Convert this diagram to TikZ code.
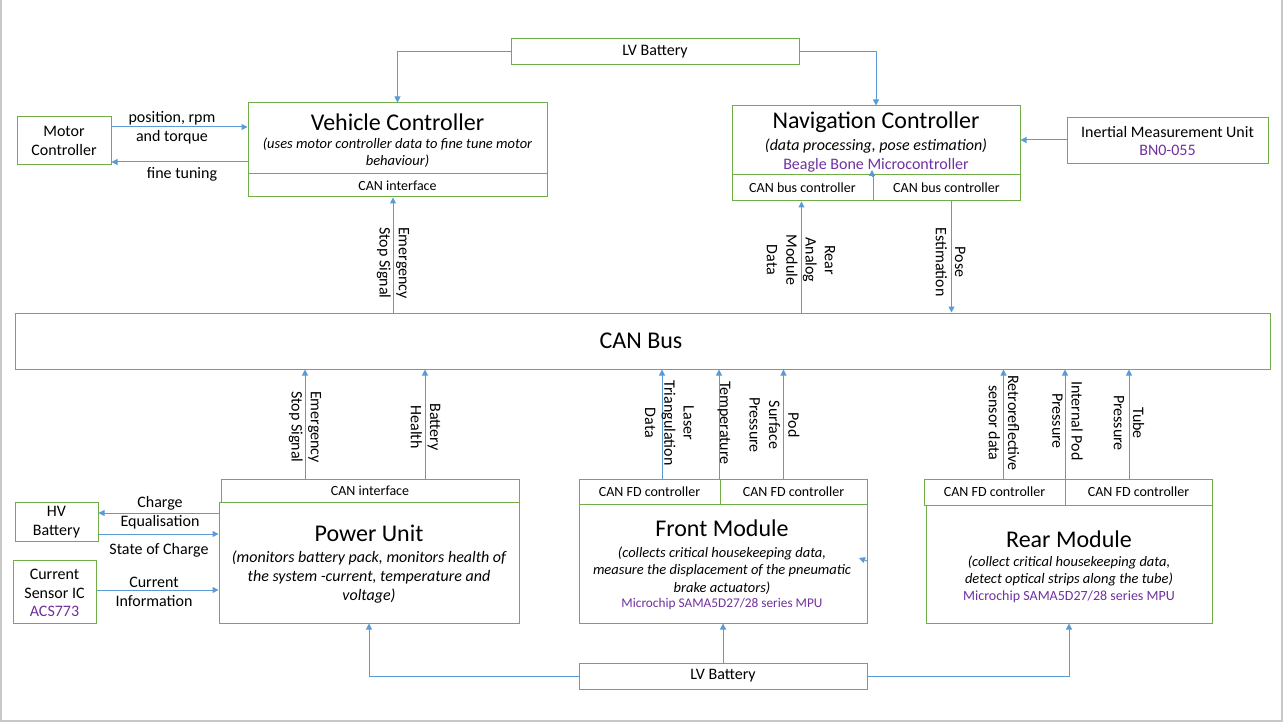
\documentclass[tikz,border=0pt]{standalone}
\usepackage{fontspec}
\setmainfont{Carlito}
\usetikzlibrary{arrows.meta,fit,calc}
\definecolor{gbox}{HTML}{70AD47}
\definecolor{blarr}{HTML}{5B9BD5}
\definecolor{purp}{HTML}{7030A0}
\definecolor{frame}{HTML}{C8C8C8}
\newcommand\fsz[2]{\fontsize{#1}{#2}\selectfont}
\begin{document}
\begin{tikzpicture}[x=1pt,y=-1pt,
  box/.style={draw=gbox,line width=1pt,inner sep=0pt,fill=none},
  arr/.style={draw=blarr,line width=1pt,-{Triangle[length=6pt,width=6pt]}},
  ttl/.style={font=\fsz{24}{28},inner sep=0pt},
  txt/.style={font=\fsz{16}{19},align=center,inner sep=0pt},
  sml/.style={font=\fsz{14}{17},align=center,inner sep=0pt},
  desc/.style={font=\fsz{14.5}{17.5}\itshape,align=center,inner sep=0pt},
  pur/.style={text=purp,inner sep=0pt},
  rot/.style={font=\fsz{16}{19.3},align=center,rotate=-90,inner sep=0pt}]
\useasboundingbox (0,0) rectangle (1283,722);
\draw[frame,line width=2pt] (1,0) -- (1,721) -- (1282,721) -- (1282,0);

% boxes
\node[box,fit={(511,39)(799,65)}] (lvt) {};
\node[box,fit={(17,117)(111,165)}] (mc) {};
\node[box,fit={(248,103)(547,174)}] (vcm) {};
\node[box,fit={(248,174)(547,197)}] (vcc) {};
\node[box,fit={(732,106)(1020,175)}] (navm) {};
\node[box,fit={(732,175)(873,201)}] (navc1) {};
\node[box,fit={(873,175)(1020,201)}] (navc2) {};
\node[box,fit={(1067,118)(1268,164)}] (imu) {};
\node[box,fit={(15,313)(1270,369)}] (can) {};
\node[box,fit={(221,479)(519,502)}] (puc) {};
\node[box,fit={(219,502)(519,623)}] (pu) {};
\node[box,fit={(15,502)(98,541)}] (hv) {};
\node[box,fit={(13,560)(96,623)}] (cs) {};
\node[box,fit={(579,479)(720,504)}] (fc1) {};
\node[box,fit={(720,479)(867,504)}] (fc2) {};
\node[box,fit={(579,504)(867,623)}] (fm) {};
\node[box,fit={(924,479)(1065,505)}] (rc1) {};
\node[box,fit={(1065,479)(1212,505)}] (rc2) {};
\node[box,fit={(926,505)(1212,623)}] (rm) {};
\node[box,fit={(579,663)(867,689)}] (lvb) {};

% box texts
\node[txt] (tlvt) at (lvt.center) {LV Battery};
\node[txt] (tmc) at (64,141) {Motor\\Controller};
\node[ttl] (tvc) at (397.5,122) {Vehicle Controller};
\node[desc] (dvc) at (397.5,152.5) {(uses motor controller data to fine tune motor\\behaviour)};
\node[sml] (tvcc) at (vcc.center) {CAN interface};
\node[ttl] (tnav) at (876,122) {Navigation Controller};
\node[desc,font=\fsz{16}{19}\itshape] (dnav) at (876,146) {(data processing, pose estimation)};
\node[txt,pur] (pnav) at (876,165) {Beagle Bone Microcontroller};
\node[sml] (tnc1) at (navc1.center) {CAN bus controller};
\node[sml] (tnc2) at (navc2.center) {CAN bus controller};
\node[txt] (timu) at (1167.5,132) {Inertial Measurement Unit};
\node[txt,pur] (pimu) at (1167.5,150) {BN0-055};
\node[ttl] (tcan) at (641,341) {CAN Bus};
\node[sml] (tpuc) at (puc.center) {CAN interface};
\node[ttl] (tpu) at (369,533) {Power Unit};
\node[desc,font=\fsz{16}{19}\itshape] (dpu) at (369,577) {(monitors battery pack, monitors health of\\the system -current, temperature and\\voltage)};
\node[txt] (thv) at (56.5,522.5) {HV\\Battery};
\node[txt] (tcs) at (54.5,583.5) {Current\\Sensor IC};
\node[txt,pur] (pcs) at (54.5,611) {ACS773};
\node[sml] (tfc1) at (fc1.center) {CAN FD controller};
\node[sml] (tfc2) at (fc2.center) {CAN FD controller};
\node[ttl] (tfm) at (722,528) {Front Module};
\node[desc] (dfm) at (722,570.5) {(collects critical housekeeping data,\\measure the displacement of the pneumatic\\brake actuators)};
\node[sml,pur,font=\fsz{13.3}{15}] (pfm) at (722,604) {Microchip SAMA5D27/28 series MPU};
\node[sml] (trc1) at (rc1.center) {CAN FD controller};
\node[sml] (trc2) at (rc2.center) {CAN FD controller};
\node[ttl] (trm) at (1069,539) {Rear Module};
\node[desc] (drm) at (1069,571) {(collect critical housekeeping data,\\detect optical strips along the tube)};
\node[sml,pur] (prm) at (1069,597) {Microchip SAMA5D27/28 series MPU};
\node[txt] (tlvb) at (lvb.center) {LV Battery};

% connectors
\draw[arr] (lvt.west) -| (vcm.north);
\draw[arr] (lvt.east) -| (navm.north);
\draw[arr] (mc.east |- 0,127) -- (vcm.west |- 0,127);
\draw[arr] (vcm.west |- 0,162) -- (mc.east |- 0,162);
\draw[arr] (can.north -| 393,0) -- (vcc.south -| 393,0);
\draw[arr] (can.north -| 801.5,0) -- (navc1.south -| 801.5,0);
\draw[arr] (navc2.south -| 951.5,0) -- (can.north -| 951.5,0);
\draw[arr] (imu.west |- 0,140) -- (navm.east |- 0,140);
\draw[arr] (puc.north -| 305,0) -- (can.south -| 305,0);
\draw[arr] (puc.north -| 425,0) -- (can.south -| 425,0);
\draw[arr] (pu.west |- 0,513) -- (hv.east |- 0,513);
\draw[arr] (hv.east |- 0,534) -- (pu.west |- 0,534);
\draw[arr] (cs.east |- 0,590) -- (pu.west |- 0,590);
\draw[arr] (lvb.west) -| (pu.south);
\draw[arr] (lvb.north) -- (fm.south -| lvb.north);
\draw[arr] (lvb.east) -| (rm.south);
\draw[arr] (fc1.north -| 662,0) -- (can.south -| 662,0);
\draw[arr] (fc1.north -| 719,0) -- (can.south -| 719,0);
\draw[arr] (fc2.north -| 783.5,0) -- (can.south -| 783.5,0);
\draw[arr] (rc1.north -| 1003.5,0) -- (can.south -| 1003.5,0);
\draw[arr] (rc2.north -| 1065,0) -- (can.south -| 1065,0);
\draw[arr] (rc2.north -| 1129,0) -- (can.south -| 1129,0);
% stray arrow tips
\coordinate (s1a) at (872,177); \coordinate (s1b) at (872,170);
\draw[arr] (s1a) -- (s1b);
\coordinate (s2a) at (867,561); \coordinate (s2b) at (859,558);
\draw[arr] (s2a) -- (s2b);

% edge labels
\node[txt] (lpr) at (172,118) {position, rpm};
\node[txt] (lat) at (172,137) {and torque};
\node[txt] (lft) at (182,174) {fine tuning};
\node[rot] (les1) at (393,263) {Emergency\\Stop Signal};
\node[rot] (lra) at (801,260) {Rear\\Analog\\Module\\Data};
\node[rot] (lpe) at (950.5,262) {Pose\\Estimation};
\node[rot] (les2) at (305,427) {Emergency\\Stop Signal};
\node[rot] (lbh) at (425.5,427) {Battery\\Health};
\node[txt] (lce) at (160,512.5) {Charge\\Equalisation};
\node[txt] (lsc) at (159,550) {State of Charge};
\node[txt] (lci) at (154,591.5) {Current\\Information};
\node[rot] (lla) at (669.5,423) {Laser\\Triangulation\\Data};
\node[rot] (lte) at (724,423) {Temperature};
\node[rot] (lps) at (774.5,425) {Pod\\Surface\\Pressure};
\node[rot] (lrs) at (1004,423) {Retroreflective\\sensor data};
\node[rot] (lip) at (1067.5,421) {Internal Pod\\Pressure};
\node[rot] (ltp) at (1129,423) {Tube\\Pressure};
\end{tikzpicture}
\end{document}
